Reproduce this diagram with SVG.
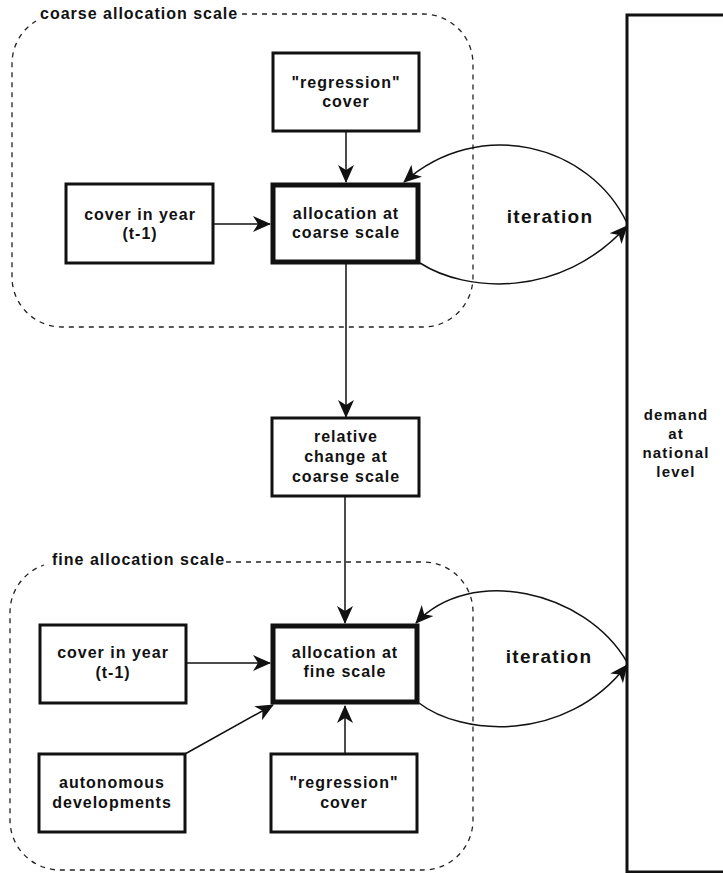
<svg xmlns="http://www.w3.org/2000/svg" width="723" height="873" viewBox="0 0 723 873">
<style>
text{font-family:"Liberation Sans",Arial,sans-serif;font-weight:bold;fill:#111;text-anchor:middle}
.t{font-size:16px;letter-spacing:1px}
.lbl{font-size:16px;letter-spacing:1px;text-anchor:start}
.it{font-size:19px;letter-spacing:1.3px}
.dm{font-size:15px;letter-spacing:1.2px}
.box{fill:#fff;stroke:#111;stroke-width:3}
.thick{fill:#fff;stroke:#111;stroke-width:5}
.region{fill:none;stroke:#222;stroke-width:1.3;stroke-dasharray:5 5}
.edge{fill:none;stroke:#111;stroke-width:1.5;marker-end:url(#ah)}
</style>
<defs>
<marker id="ah" markerUnits="userSpaceOnUse" markerWidth="18" markerHeight="18" viewBox="0 0 18 18" refX="17" refY="9" orient="auto">
<path d="M0,1 L18,9 L0,17 L5,9 z" fill="#111"/>
</marker>
</defs>
<g id="regions">
<path class="region" d="M242,14 H423 A50,50 0 0 1 473,64 V277 A50,50 0 0 1 423,327 H62 A50,50 0 0 1 12,277 V64 A50,50 0 0 1 36,21"/>
<text class="lbl" x="40" y="19">coarse allocation scale</text>
<path class="region" d="M226,562 H423 A50,50 0 0 1 473,612 V820 A50,50 0 0 1 423,870 H60 A50,50 0 0 1 10,820 V612 A50,50 0 0 1 44,565"/>
<text class="lbl" x="52" y="565">fine allocation scale</text>
</g>
<g id="connectors">
<path class="edge" d="M346,131 V182"/>
<path class="edge" d="M213,224 H270"/>
<path class="edge" d="M346,263 V417"/>
<path class="edge" d="M345,496 V623"/>
<path class="edge" d="M186,663 H270"/>
<path class="edge" d="M185,754 L273,705"/>
<path class="edge" d="M345,754 V706"/>
<path class="edge" d="M627,223 C590,145 480,115 404,182"/>
<path class="edge" d="M420,263 C465,292 560,300 627,226"/>
<path class="edge" d="M627,662 C585,590 470,565 416,623"/>
<path class="edge" d="M419,703 C460,735 565,745 627,665"/>
</g>
<g id="n-regression-coarse">
<rect class="box" x="273" y="53" width="146" height="78"/>
<text class="t" x="346" y="88">"regression"</text>
<text class="t" x="346" y="107">cover</text>
</g>
<g id="n-cover-coarse">
<rect class="box" x="66" y="184" width="147" height="79"/>
<text class="t" x="140" y="220">cover in year</text>
<text class="t" x="140" y="239">(t-1)</text>
</g>
<g id="n-alloc-coarse">
<rect class="thick" x="273" y="185" width="145" height="77"/>
<text class="t" x="346" y="219">allocation at</text>
<text class="t" x="346" y="238">coarse scale</text>
</g>
<g id="n-relative">
<rect class="box" x="272" y="418" width="147" height="78"/>
<text class="t" x="346" y="442">relative</text>
<text class="t" x="346" y="462">change at</text>
<text class="t" x="346" y="482">coarse scale</text>
</g>
<g id="n-cover-fine">
<rect class="box" x="40" y="625" width="146" height="78"/>
<text class="t" x="113" y="658">cover in year</text>
<text class="t" x="113" y="678">(t-1)</text>
</g>
<g id="n-alloc-fine">
<rect class="thick" x="273" y="626" width="144" height="76"/>
<text class="t" x="345" y="658">allocation at</text>
<text class="t" x="345" y="677">fine scale</text>
</g>
<g id="n-autonomous">
<rect class="box" x="39" y="754" width="146" height="78"/>
<text class="t" x="112" y="788">autonomous</text>
<text class="t" x="112" y="808">developments</text>
</g>
<g id="n-regression-fine">
<rect class="box" x="271" y="754" width="146" height="78"/>
<text class="t" x="344" y="788">"regression"</text>
<text class="t" x="344" y="808">cover</text>
</g>
<g id="n-demand">
<rect class="box" x="627" y="15" width="200" height="857"/>
<text class="dm" x="676" y="420">demand</text>
<text class="dm" x="676" y="439">at</text>
<text class="dm" x="676" y="458">national</text>
<text class="dm" x="676" y="477">level</text>
</g>
<g id="labels">
<text class="it" x="550" y="223">iteration</text>
<text class="it" x="549" y="663">iteration</text>
</g>
</svg>
